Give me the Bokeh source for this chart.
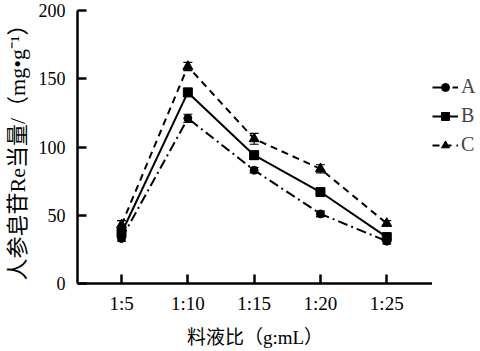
from bokeh.plotting import figure
from bokeh.layouts import row
from bokeh.models import FixedTicker, Whisker, ColumnDataSource, Legend, LegendItem, Range1d
from bokeh.embed import file_html
from bokeh.resources import INLINE

categories = ["1:5", "1:10", "1:15", "1:20", "1:25"]
series_names = ["A", "B", "C"]
a_vals = [33, 121, 83, 51, 31]
b_vals = [37, 140, 94, 67, 34]
c_vals = [43, 159, 106, 84, 44]
a_err = [2, 3, 2, 2, 2]
b_err = [3, 3, 3, 2, 2]
c_err = [3, 3, 4, 3, 2]
y_ticks = [0, 50, 100, 150, 200]

SERIF = "'Liberation Serif', 'Noto Sans CJK SC'"

xs = list(range(1, len(categories) + 1))

p = figure(width=432, height=351, output_backend="svg", toolbar_location=None,
           x_range=Range1d(0.336, 5.69), y_range=Range1d(0, 200),
           min_border_left=77, min_border_right=0, min_border_top=10, min_border_bottom=68)
p.outline_line_color = None
p.grid.grid_line_color = None
p.background_fill_color = "white"

# narrow side panel that only carries the legend (its own copies sit off-range)
lg = figure(width=48, height=351, output_backend="svg", toolbar_location=None,
            x_range=Range1d(0.336, 5.69), y_range=Range1d(1000, 1200), min_border=0)
lg.axis.visible = False
lg.grid.grid_line_color = None
lg.outline_line_color = None

styles = [
    (a_vals, a_err, "circle", 8, "10 4 2 4"),
    (b_vals, b_err, "square", 9, None),
    (c_vals, c_err, "triangle", 10, "7 5"),
]
items = []
for name, (vals, errs, marker, size, dash) in zip(series_names, styles):
    src = ColumnDataSource(dict(x=xs, y=vals, lo=[v - e for v, e in zip(vals, errs)],
                                hi=[v + e for v, e in zip(vals, errs)]))
    kw = dict(line_color="black", line_width=2)
    if dash:
        kw["line_dash"] = dash
    p.line("x", "y", source=src, **kw)
    p.scatter("x", "y", source=src, marker=marker, size=size,
              fill_color="black", line_color="black")
    w = Whisker(base="x", lower="lo", upper="hi", source=src, line_color="black",
                line_width=1.2)
    w.upper_head.size = 9
    w.lower_head.size = 9
    w.upper_head.line_width = 1.2
    w.lower_head.line_width = 1.2
    p.add_layout(w)
    ln = lg.line("x", "y", source=src, **kw)
    sc = lg.scatter("x", "y", source=src, marker=marker, size=size,
                    fill_color="black", line_color="black")
    items.append(LegendItem(label=name, renderers=[ln, sc]))

legend = Legend(items=items, location="top_left", border_line_color=None,
                background_fill_alpha=0, label_text_font=SERIF,
                label_text_font_size="20px", glyph_width=26, glyph_height=20,
                spacing=6, padding=1, margin=0, label_standoff=3,
                title=" ", title_text_font_size="40px", title_standoff=20)
lg.add_layout(legend, "center")

for ax in (p.xaxis[0], p.yaxis[0]):
    ax.axis_line_width = 2.5
    ax.major_tick_line_width = 2.5
    ax.major_tick_in = 9
    ax.major_tick_out = 0
    ax.minor_tick_line_color = None
    ax.major_label_text_font = SERIF
    ax.major_label_text_font_size = "19px"
    ax.major_label_text_color = "black"
    ax.axis_label_text_font = SERIF
    ax.axis_label_text_font_size = "19px"
    ax.axis_label_text_font_style = "normal"
    ax.axis_label_text_color = "black"

p.xaxis.ticker = FixedTicker(ticks=xs)
p.xaxis.major_label_overrides = {x: c for x, c in zip(xs, categories)}
p.xaxis.major_label_standoff = 9
p.xaxis.axis_label = "料液比（g:mL）"
p.xaxis.axis_label_standoff = 10

p.yaxis.ticker = FixedTicker(ticks=y_ticks)
p.yaxis.major_label_text_font_size = "18px"
p.yaxis.major_label_standoff = 12
p.yaxis.axis_label = "人参皂苷Re当量/（mg•g⁻¹）"
p.yaxis.axis_label_text_font_size = "22px"
p.yaxis.axis_label_standoff = 6

layout = row(p, lg, spacing=0)
open("out.html", "w").write(file_html(layout, INLINE))
